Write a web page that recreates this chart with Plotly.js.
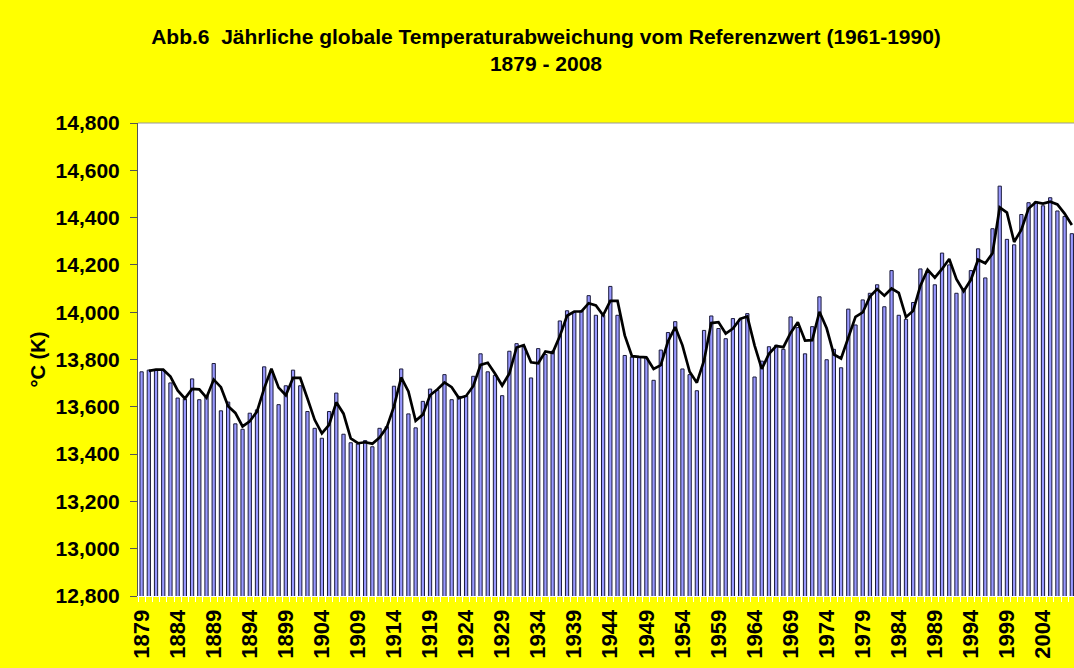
<!DOCTYPE html>
<html>
<head>
<meta charset="utf-8">
<script src="https://cdn.plot.ly/plotly-3.0.1.min.js"></script>
<style>html,body{margin:0;padding:0;background:#FFFF00;}#chart{width:1074px;height:668px;}</style>
</head>
<body>
<div id="chart"></div>
<script>
// Years (categories)
const years = [1879,1880,1881,1882,1883,1884,1885,1886,1887,1888,1889,1890,1891,1892,1893,1894,1895,1896,1897,1898,1899,
1900,1901,1902,1903,1904,1905,1906,1907,1908,1909,1910,1911,1912,1913,1914,1915,1916,1917,1918,1919,
1920,1921,1922,1923,1924,1925,1926,1927,1928,1929,1930,1931,1932,1933,1934,1935,1936,1937,1938,1939,
1940,1941,1942,1943,1944,1945,1946,1947,1948,1949,1950,1951,1952,1953,1954,1955,1956,1957,1958,1959,
1960,1961,1962,1963,1964,1965,1966,1967,1968,1969,1970,1971,1972,1973,1974,1975,1976,1977,1978,1979,
1980,1981,1982,1983,1984,1985,1986,1987,1988,1989,1990,1991,1992,1993,1994,1995,1996,1997,1998,1999,
2000,2001,2002,2003,2004,2005,2006,2007,2008];

// Annual global mean temperature (°C)
const temperature = [13.748,13.755,13.758,13.755,13.701,13.637,13.633,13.718,13.630,13.647,13.783,13.583,13.620,13.528,13.505,13.573,13.587,13.769,13.752,13.609,13.689,
13.755,13.689,13.580,13.509,13.467,13.580,13.658,13.484,13.448,13.443,13.457,13.431,13.509,13.516,13.687,13.760,13.570,13.511,13.623,13.675,
13.670,13.736,13.630,13.644,13.647,13.729,13.824,13.748,13.733,13.647,13.835,13.867,13.854,13.722,13.846,13.821,13.835,13.963,14.006,13.999,
14.006,14.070,13.987,13.987,14.109,13.987,13.817,13.811,13.811,13.807,13.712,13.840,13.914,13.960,13.760,13.736,13.668,13.923,13.984,13.931,
13.888,13.973,13.970,13.994,13.726,13.793,13.854,13.860,13.843,13.980,13.935,13.824,13.939,14.065,13.799,13.843,13.765,14.013,13.946,14.052,
14.080,14.116,14.023,14.176,13.987,13.970,14.041,14.183,14.176,14.116,14.250,14.200,14.080,14.098,14.176,14.268,14.145,14.353,14.533,14.308,
14.285,14.413,14.463,14.467,14.450,14.484,14.428,14.405,14.332];

// Smoothed line (2-year moving average as drawn), years 1880-2008
const smoothYears = years.slice(1);
const smoothed = [13.752,13.757,13.757,13.728,13.669,13.635,13.676,13.674,13.639,13.715,13.683,13.602,13.574,13.517,13.539,13.580,13.678,13.761,13.681,13.649,
13.722,13.722,13.635,13.545,13.488,13.524,13.619,13.571,13.466,13.446,13.450,13.444,13.470,13.513,13.602,13.724,13.665,13.541,13.567,13.649,
13.673,13.703,13.683,13.637,13.646,13.688,13.777,13.786,13.741,13.690,13.741,13.851,13.861,13.788,13.784,13.834,13.828,13.899,13.985,14.003,
14.003,14.038,14.029,13.987,14.048,14.048,13.902,13.814,13.811,13.809,13.760,13.776,13.877,13.937,13.860,13.748,13.702,13.796,13.954,13.958,
13.910,13.931,13.972,13.982,13.860,13.760,13.824,13.857,13.852,13.912,13.958,13.880,13.882,14.002,13.932,13.821,13.804,13.889,13.980,13.999,
14.066,14.098,14.070,14.100,14.082,13.979,14.006,14.112,14.180,14.146,14.183,14.225,14.140,14.089,14.137,14.222,14.207,14.249,14.443,14.421,
14.297,14.349,14.438,14.465,14.459,14.467,14.456,14.417,14.369];

// Axis labels
const xTickVals = [1879,1884,1889,1894,1899,1904,1909,1914,1919,1924,1929,1934,1939,1944,1949,1954,1959,1964,1969,1974,1979,1984,1989,1994,1999,2004];
const xTickText = xTickVals.map(String);
const yTickVals = [12.8,13.0,13.2,13.4,13.6,13.8,14.0,14.2,14.4,14.6,14.8];

const FONT = 'Arial, "Liberation Sans", sans-serif';

const traces = [
  {
    type: 'bar', x: years, y: temperature,
    marker: {color: '#9999FF', line: {color: '#1a1a3a', width: 1}},
    hoverinfo: 'x+y', showlegend: false
  },
  {
    type: 'scatter', mode: 'lines', x: smoothYears, y: smoothed,
    line: {color: '#000000', width: 2.7},
    hoverinfo: 'skip', showlegend: false
  }
];

const layout = {
  width: 1074, height: 668,
  paper_bgcolor: '#FFFF00', plot_bgcolor: '#FFFFFF',
  margin: {l: 138, r: 0, t: 123, b: 72, pad: 0},
  separators: ',.',
  font: {family: FONT, color: '#000000'},
  bargap: 0.55,
  title: {
    text: 'Abb.6\u00a0 Jährliche globale Temperaturabweichung vom Referenzwert (1961-1990)<br>1879 - 2008',
    font: {family: FONT, size: 21, weight: 'bold', color: '#000000'},
    x: 546/1074, xref: 'container', xanchor: 'center',
    y: 1 - 44/668, yref: 'container', yanchor: 'top'
  },
  xaxis: {
    type: 'linear', range: [1878.5, 2008.3],
    tickmode: 'array', tickvals: xTickVals, ticktext: xTickText,
    tickangle: -90, tickfont: {family: FONT, size: 22, weight: 'bold', color: '#000000'},
    ticks: '', ticklabelstandoff: 4, showgrid: false, zeroline: false,
    showline: true, linecolor: '#FFFFFF', linewidth: 1,
    minor: {tick0: 1878.5, dtick: 1, ticks: 'outside', ticklen: 5, tickcolor: '#FFFFFF', showgrid: false},
    fixedrange: true
  },
  yaxis: {
    range: [12.8, 14.8],
    tickmode: 'array', tickvals: yTickVals, tickformat: '.3f',
    tickfont: {family: FONT, size: 21, weight: 'bold', color: '#000000'},
    ticks: 'outside', ticklen: 7, tickcolor: '#555555', tickwidth: 1, ticklabelstandoff: 6,
    showgrid: false, zeroline: false,
    showline: true, linecolor: '#555555', linewidth: 1,
    title: {text: '°C (K)', font: {family: FONT, size: 20, weight: 'bold', color: '#000000'}, standoff: 4},
    fixedrange: true
  },
  shapes: [
    {type: 'line', xref: 'paper', yref: 'paper', x0: 0, x1: 1, y0: 1, y1: 1, line: {color: '#999999', width: 1}}
  ]
};

Plotly.newPlot('chart', traces, layout, {displayModeBar: false, staticPlot: true});
</script>
</body>
</html>
